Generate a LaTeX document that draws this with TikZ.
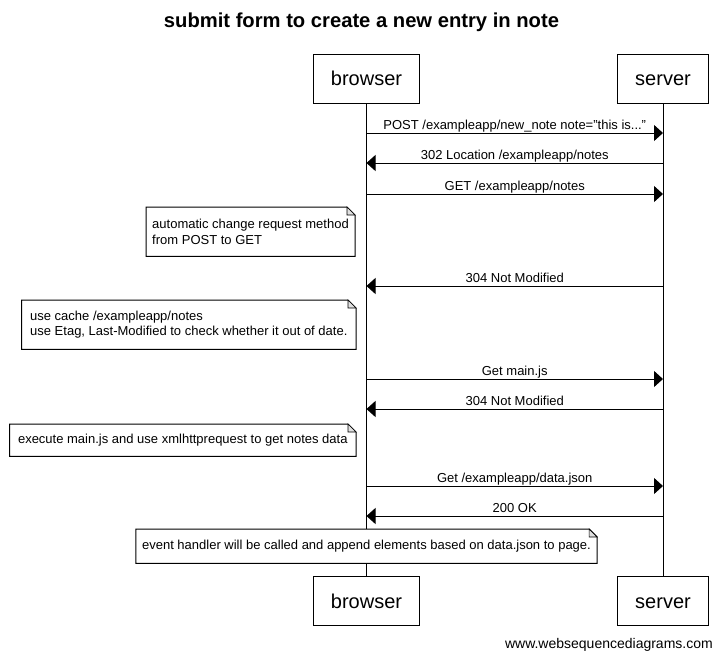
\documentclass[tikz,border=0pt]{standalone}
\usepackage{fontspec}
\setmainfont{Liberation Sans}
\usetikzlibrary{arrows.meta,positioning}
\tikzstyle{actor box}=[draw, line width=1pt, inner xsep=17.5pt,
  minimum height=49pt, text height=15pt, text depth=1pt,
  font=\fontsize{20}{24}\selectfont]
\tikzstyle{lifeline}=[line width=1pt]
\tikzstyle{message}=[line width=1pt, -{Triangle[length=9pt,width=16pt]}]
\tikzstyle{message label}=[above, inner xsep=2pt, inner ysep=3pt, text depth=0pt,
  font=\fontsize{13}{15}\selectfont]
% the outline with the folded corner is drawn later
\tikzstyle{note box}=[anchor=north east, align=left, fill=white, inner xsep=6pt,
  font=\fontsize{13}{15.5}\selectfont]

\begin{document}
\begin{tikzpicture}[x=1pt, y=-1pt]
  \useasboundingbox (0,0) rectangle (723,659);
  \node[font=\bfseries\fontsize{20.2}{24}\selectfont] (title) at (361.5,22)
    {submit form to create a new entry in note};
  % participants
  \node[actor box] (browser top) at (366.5,78.5) {browser};
  \node[actor box] (server top) at (663,78.5) {server};
  \node[actor box] (browser bottom) at (366.5,601) {browser};
  \node[actor box] (server bottom) at (663,601) {server};
  \draw[lifeline] (browser top) -- (browser bottom);
  \draw[lifeline] (server top) -- (server bottom);
  % messages
  \draw[message] (browser top |- 0,133) -- (server top |- 0,133)
    node[message label, midway] {POST /exampleapp/new\_note note="this is..."};
  \draw[message] (server top |- 0,163) -- (browser top |- 0,163)
    node[message label, midway] {302 Location /exampleapp/notes};
  \draw[message] (browser top |- 0,194) -- (server top |- 0,194)
    node[message label, midway] {GET /exampleapp/notes};
  \node[note box, minimum height=49pt] (method note) at (355,207)
    {automatic change request method\\from POST to GET};
  \draw[message] (server top |- 0,286) -- (browser top |- 0,286)
    node[message label, midway] {304 Not Modified};
  \node[note box, minimum height=49pt, minimum width=334pt] (cache note) at (356,300)
    {use cache /exampleapp/notes\\use Etag, Last-Modified to check whether it out of date.};
  \draw[message] (browser top |- 0,379) -- (server top |- 0,379)
    node[message label, midway] {Get main.js};
  \draw[message] (server top |- 0,409) -- (browser top |- 0,409)
    node[message label, midway] {304 Not Modified};
  \node[note box, minimum height=32pt, minimum width=346pt] (script note) at (356,424)
    {execute main.js and use xmlhttprequest to get notes data};
  \draw[message] (browser top |- 0,486) -- (server top |- 0,486)
    node[message label, midway] {Get /exampleapp/data.json};
  \draw[message] (server top |- 0,516) -- (browser top |- 0,516)
    node[message label, midway] {200 OK};
  \node[note box, anchor=north, minimum height=34pt] (handler note) at (366.5,529)
    {event handler will be called and append elements based on data.json to page.};
  \foreach \n in {method note, cache note, script note, handler note} {
    \draw[line width=1pt] (\n.north west) -- ([xshift=-8pt]\n.north east)
      -- ([yshift=-8pt]\n.north east) -- (\n.south east) -- (\n.south west) -- cycle;
    \draw[line width=0.7pt, fill=black!12] ([xshift=-8pt]\n.north east)
      -- ([xshift=-8pt,yshift=-8pt]\n.north east) -- ([yshift=-8pt]\n.north east) -- cycle;
  }
  \node[anchor=base east, inner sep=0pt, font=\fontsize{14}{16}\selectfont] (watermark)
    at (713,648) {www.websequencediagrams.com};
\end{tikzpicture}
\end{document}
